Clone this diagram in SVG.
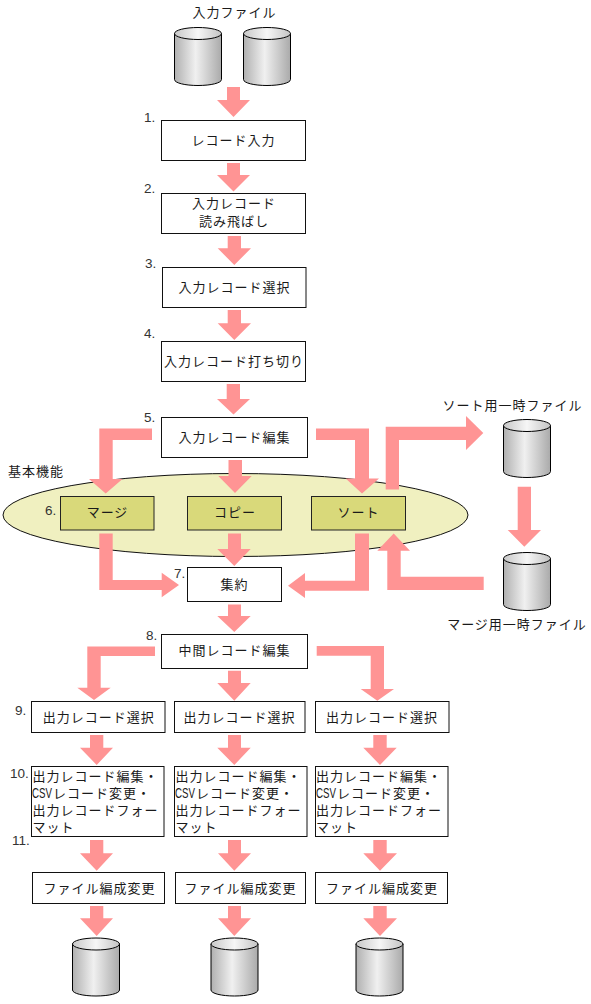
<svg xmlns="http://www.w3.org/2000/svg" width="591" height="1004" viewBox="0 0 591 1004">
<style>
text{font-family:"Noto Sans CJK JP","DejaVu Sans",sans-serif;font-size:13px;letter-spacing:1px;fill:#1a1a1a}
.m{text-anchor:middle}
.n{font-family:"Liberation Sans",sans-serif;font-size:13.500px;letter-spacing:0;fill:#333}
.c{font-family:"Liberation Sans",sans-serif;font-size:14.500px;letter-spacing:0}
.b{fill:#fff;stroke:#111;stroke-width:1}
.y{fill:#d9d97a;stroke:#222;stroke-width:1}
.a{fill:#ff9494}
</style>
<defs>
<linearGradient id="g"><stop offset="0" stop-color="#b0b0b0"/><stop offset=".45" stop-color="#f0f0f0"/><stop offset="1" stop-color="#aaa"/></linearGradient>
<linearGradient id="t"><stop offset="0" stop-color="#c8c8c8"/><stop offset=".5" stop-color="#f6f6f6"/><stop offset="1" stop-color="#c4c4c4"/></linearGradient>
<g id="cyl">
<path d="M0 6V52C0 55.500 10.500 58 23.500 58S47 55.500 47 52V6Z" fill="url(#g)" stroke="#000"/>
<ellipse cx="23.500" cy="6" rx="23.500" ry="6" fill="url(#t)" stroke="#000"/>
</g>
</defs>
<g id="ellipse-basic"><ellipse cx="235.500" cy="515" rx="232.500" ry="41.500" fill="#f0f0c0" stroke="#111"/></g>
<g id="connectors" class="a">
<path d="M227 87H240V100H250L233.500 117L217 100H227Z"/>
<path d="M227 163H240V175H250L233.500 191.500L217 175H227Z"/>
<path d="M227.700 236H241V248.300H251L234.300 265L217.700 248.300H227.700Z"/>
<path d="M227.700 310H241V323.300H251L234.300 340L217.700 323.300H227.700Z"/>
<path d="M226.700 384H240V399H250L233.500 414.500L217 399H226.700Z"/>
<path d="M152 428.500V440H112.700V479H122.500L105.700 493.500L89 479H99.300V428.500Z"/>
<path d="M228.500 460H242V476H251.700L235 493L218.300 476H228.500Z"/>
<path d="M316 428.500H369V478.500H379L362 493.500L345.700 478.500H355V440H316Z"/>
<path d="M385.700 489.500V426.700H466V416L483.300 433L466 450V440H399V489.500Z"/>
<path d="M99.300 533.500H112.700V580H161.700V572.700L179 585L161.700 597.300V590H99.300Z"/>
<path d="M228 533.500H241V549H250.700L234.300 566L217.300 549H228Z"/>
<path d="M355 533.500H369V590.700H305V598L288 585.700L305 573V580.700H355Z"/>
<path d="M393.700 533.500L410 550.700H400.700V576.700H483.700V590H387.300V550.700H377.300Z"/>
<path d="M517.700 486.700H531V530H541L524.300 546.700L507.700 530H517.700Z"/>
<path d="M228 604.500H241V616H250.700L234.300 632L217.300 616H228Z"/>
<path d="M155 646.500V656H100.700V687.700H110.700L94 700L77.300 687.700H87.300V646.500Z"/>
<path d="M228 670.700H241V683H250.700L234.300 700.700L217.300 683H228Z"/>
<path d="M316.700 646H384V689H394L377.300 700.700L360.700 689H370.700V655.700H316.700Z"/>
<path d="M90 735H103.300V747.700H113L96.700 765L80 747.700H90Z"/>
<path d="M228 735H241V747.700H250.700L234.300 765L217.300 747.700H228Z"/>
<path d="M373.300 735H386.700V747.700H396.700L380 765L363.300 747.700H373.300Z"/>
<path d="M90 840H103.300V853.300H113L96.700 870.700L80 853.300H90Z"/>
<path d="M228 840H241V853.300H251L234.300 870.700L218 853.300H228Z"/>
<path d="M373.300 840H386.700V853.300H397L380 870.700L363.300 853.300H373.300Z"/>
<path d="M90 906H103.300V918.300H113L96.700 936L80 918.300H90Z"/>
<path d="M228 906H241V918.300H251L234.300 936L218 918.300H228Z"/>
<path d="M373.300 906H386.700V918.300H397L380 936L363.300 918.300H373.300Z"/>
</g>
<g id="input-files"><text class="m" x="234.500" y="17">入力ファイル</text><use href="#cyl" x="174.500" y="27.500"/><use href="#cyl" x="243.500" y="27.500"/></g>
<g id="n1"><text class="n" x="144" y="122">1.</text><rect class="b" x="161.500" y="120.500" width="144" height="40"/><text class="m" x="233.500" y="145">レコード入力</text></g>
<g id="n2"><text class="n" x="144" y="193">2.</text><rect class="b" x="161.500" y="193.500" width="144" height="40"/><text class="m" x="234" y="207.500">入力レコード</text><text class="m" x="234" y="226">読み飛ばし</text></g>
<g id="n3"><text class="n" x="145" y="268">3.</text><rect class="b" x="162.500" y="267.500" width="143.500" height="40"/><text class="m" x="234.500" y="292">入力レコード選択</text></g>
<g id="n4"><text class="n" x="144" y="338">4.</text><rect class="b" x="161.500" y="341.500" width="144" height="40"/><text class="m" x="234" y="366">入力レコード打ち切り</text></g>
<g id="n5"><text class="n" x="144" y="422">5.</text><rect class="b" x="161.500" y="417.500" width="146" height="40"/><text class="m" x="234.500" y="442">入力レコード編集</text></g>
<g id="basic-label"><text x="8" y="476">基本機能</text></g>
<g id="n6-merge"><text class="n" x="45" y="515">6.</text><rect class="y" x="60.500" y="496.500" width="93.500" height="33.500"/><text class="m" x="107.500" y="517">マージ</text></g>
<g id="n6-copy"><rect class="y" x="187.500" y="496.500" width="94" height="33.500"/><text class="m" x="235" y="517">コピー</text></g>
<g id="n6-sort"><rect class="y" x="311.500" y="496.500" width="94" height="33.500"/><text class="m" x="358.500" y="517">ソート</text></g>
<g id="n7"><text class="n" x="174" y="578">7.</text><rect class="b" x="187.500" y="567.500" width="94" height="34"/><text class="m" x="234.500" y="589">集約</text></g>
<g id="sort-temp"><text class="m" x="512.500" y="410">ソート用一時ファイル</text><use href="#cyl" x="503.500" y="419.500"/></g>
<g id="merge-temp"><use href="#cyl" x="503.500" y="552.500"/><text class="m" x="517" y="629">マージ用一時ファイル</text></g>
<g id="n8"><text class="n" x="146" y="640">8.</text><rect class="b" x="161.500" y="634.500" width="146" height="34"/><text class="m" x="234.500" y="655">中間レコード編集</text></g>
<g id="n9a"><text class="n" x="15" y="715">9.</text><rect class="b" x="31.500" y="701.500" width="133.500" height="31"/><text class="m" x="98.800" y="722">出力レコード選択</text></g>
<g id="n9b"><rect class="b" x="174.500" y="701.500" width="130.500" height="31"/><text class="m" x="239.500" y="722">出力レコード選択</text></g>
<g id="n9c"><rect class="b" x="315.500" y="701.500" width="133.500" height="31"/><text class="m" x="382" y="722">出力レコード選択</text></g>
<g id="n10a"><text class="n" x="10" y="778">10.</text><rect class="b" x="31.500" y="766.500" width="132.500" height="70"/><text x="32.500" y="781">出力レコード編集・</text><text class="c" transform="translate(32 797.500) scale(.67 1)">CSV</text><text x="53" y="798">レコード変更・</text><text x="32.500" y="815">出力レコードフォー</text><text x="32.500" y="832">マット</text></g>
<g id="n10b"><rect class="b" x="174.500" y="766.500" width="132.500" height="70"/><text x="175.500" y="781">出力レコード編集・</text><text class="c" transform="translate(175 797.500) scale(.67 1)">CSV</text><text x="196" y="798">レコード変更・</text><text x="175.500" y="815">出力レコードフォー</text><text x="175.500" y="832">マット</text></g>
<g id="n10c"><rect class="b" x="315.500" y="766.500" width="132.500" height="70"/><text x="316" y="781">出力レコード編集・</text><text class="c" transform="translate(316 797.500) scale(.67 1)">CSV</text><text x="337" y="798">レコード変更・</text><text x="316" y="815">出力レコードフォー</text><text x="316" y="832">マット</text></g>
<g id="n11a"><text class="n" x="12" y="845">11.</text><rect class="b" x="32.500" y="872.500" width="132" height="31"/><text class="m" x="99.500" y="893">ファイル編成変更</text></g>
<g id="n11b"><rect class="b" x="175.500" y="872.500" width="130" height="31"/><text class="m" x="240.500" y="893">ファイル編成変更</text></g>
<g id="n11c"><rect class="b" x="315.500" y="872.500" width="132" height="31"/><text class="m" x="382" y="893">ファイル編成変更</text></g>
<g id="out1"><use href="#cyl" x="72.500" y="938"/></g>
<g id="out2"><use href="#cyl" x="211" y="938"/></g>
<g id="out3"><use href="#cyl" x="356" y="938"/></g>
</svg>
